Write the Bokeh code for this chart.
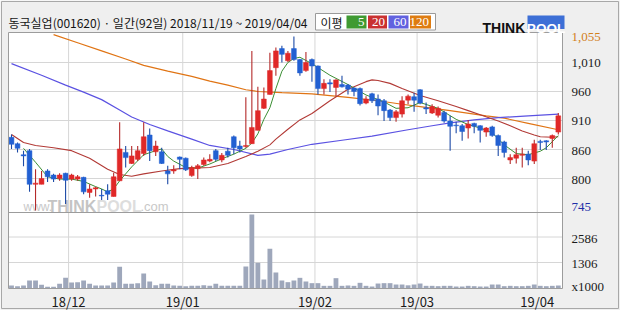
from bokeh.plotting import figure
from bokeh.models import Range1d, ColumnDataSource
from bokeh.embed import file_html
from bokeh.resources import INLINE
from bokeh.core.properties import value

# ------------------------------------------------------------------ data
TITLE = "동국실업(001620) · 일간(92일) 2018/11/19 ~ 2019/04/04"
LEGEND_TITLE = "이평"
LEGEND_LABELS = ["5", "20", "60", "120"]
LEGEND_COLORS = ["#3f9a32", "#c93131", "#6161df", "#de7c12"]

OPEN = [881, 870, 851, 858, 800, 800, 823, 816, 810, 819, 809, 809, 812, 786, 792, 781, 789, 779, 806, 855,
        836, 843, 853, 885, 856, 856, 823, 823, 847, 845, 815, 827, 834, 840, 858, 842, 857, 882, 866, 865,
        870, 893, 931, 955, 1001, 1034, 1013, 1034, 1015, 996, 1015, 1004, 965, 975, 967, 972, 971, 966, 965, 940,
        956, 947, 944, 928, 915, 921, 945, 951, 963, 932, 923, 919, 924, 909, 902, 901, 897, 905, 901, 890,
        899, 884, 873, 842, 845, 850, 852, 840, 874, 875, 879, 890]
HIGH = [886, 872, 858, 861, 826, 823, 826, 818, 819, 820, 818, 816, 813, 800, 796, 792, 800, 820, 907, 866,
        866, 866, 907, 896, 875, 863, 832, 833, 848, 846, 832, 835, 846, 852, 861, 854, 863, 884, 875, 950,
        1030, 968, 967, 1027, 1036, 1039, 1030, 1055, 1016, 1028, 1017, 1005, 981, 981, 981, 987, 973, 967, 967, 952,
        958, 955, 947, 930, 928, 952, 955, 958, 964, 941, 938, 934, 927, 918, 908, 904, 911, 906, 902, 899,
        901, 886, 875, 852, 863, 863, 858, 877, 877, 876, 886, 923]
LOW = [861, 855, 831, 787, 755, 800, 804, 804, 806, 766, 806, 806, 783, 777, 779, 773, 773, 779, 806, 829,
       835, 840, 849, 840, 849, 835, 800, 818, 826, 823, 813, 809, 832, 838, 840, 838, 846, 852, 855, 863,
       870, 893, 930, 955, 987, 1010, 1011, 1013, 987, 994, 977, 955, 955, 959, 952, 967, 955, 952, 936, 938,
       940, 919, 909, 909, 908, 915, 938, 925, 938, 921, 921, 915, 906, 858, 888, 875, 879, 888, 872, 882,
       882, 849, 846, 835, 836, 829, 833, 835, 859, 859, 863, 886]
CLOSE = [869, 862, 849, 800, 802, 810, 813, 809, 816, 807, 816, 813, 787, 792, 794, 780, 783, 813, 861, 846,
         849, 858, 882, 858, 866, 836, 818, 825, 843, 825, 829, 832, 842, 843, 843, 850, 850, 863, 861, 867,
         898, 927, 947, 996, 1030, 1024, 1026, 1015, 992, 1010, 1004, 965, 974, 973, 980, 968, 964, 960, 939, 947,
         944, 935, 927, 915, 925, 944, 952, 945, 940, 930, 934, 931, 909, 900, 901, 891, 904, 900, 893, 897,
         884, 867, 855, 846, 851, 852, 842, 870, 872, 873, 884, 918]
VOLUME = [151, 117, 151, 402, 402, 184, 84, 84, 234, 536, 301, 318, 402, 234, 151, 151, 151, 301, 1088, 234,
          234, 268, 753, 352, 167, 234, 234, 151, 134, 117, 134, 134, 167, 134, 234, 134, 134, 134, 134, 1105,
          3717, 1290, 452, 1992, 804, 402, 318, 402, 536, 352, 268, 268, 134, 134, 519, 134, 151, 134, 285, 134,
          100, 250, 268, 268, 200, 200, 160, 200, 250, 134, 134, 117, 134, 134, 100, 100, 134, 117, 100, 100,
          200, 200, 117, 134, 117, 117, 134, 200, 134, 117, 134, 150]

MA5_X = [2, 4, 6, 8, 10, 12, 14, 15, 16, 17, 18, 20, 22, 24, 25, 26, 27, 29, 31, 33, 35, 37, 39, 40, 41, 42,
         43, 44, 45, 46, 47, 48, 50, 53, 56, 59, 62, 64, 66, 68, 71, 74, 76, 78, 80, 82, 84, 86, 88, 89, 91]
MA5_Y = [862, 838, 813, 809, 809, 805, 796, 792, 787, 792, 806, 830, 851, 858, 861, 848, 840, 829, 828, 835,
         844, 852, 862, 871, 887, 912, 932, 965, 995, 1010, 1017, 1019, 1008, 988, 972, 954, 942, 931, 932, 941,
         931, 912, 903, 897, 889, 868, 853, 851, 857, 863, 884]
MA20_X = [0, 2, 4, 7, 10, 13, 16, 18, 20, 22, 25, 28, 33, 36, 39, 41, 43, 44, 46, 48, 50, 53, 56, 59, 60, 61,
          63, 65, 68, 71, 74, 76, 78, 81, 83, 85, 87, 88, 90, 91]
MA20_Y = [886, 872, 867, 863, 858, 845, 826, 817, 814, 818, 823, 827, 829, 836, 848, 857, 868, 878, 895, 911,
          922, 944, 964, 977, 980, 979, 974, 965, 953, 944, 934, 927, 920, 909, 901, 892, 885, 882, 881, 882]
MA60_X = [0, 5, 9, 12, 15, 18, 20, 23, 26, 30, 33, 37, 41, 43, 46, 50, 55, 60, 66, 70, 73, 77, 81, 86, 91]
MA60_Y = [1008, 988, 971, 959, 946, 928, 916, 903, 892, 878, 867, 860, 850, 852, 860, 869, 876, 883, 894, 901,
          906, 911, 915, 918, 921]
MA120_X = [7, 11, 15, 19, 22, 26, 30, 33, 36, 39, 41, 45, 50, 56, 61, 65, 68, 73, 79, 82, 86, 91]
MA120_Y = [1058, 1044, 1030, 1016, 1005, 995, 986, 978, 971, 963, 960, 958, 956, 950, 944, 938, 934, 927, 918,
           914, 905, 894]

MONTH_START = [10, 29, 51, 68, 88]
MONTH_LABELS = ["18/12", "19/01", "19/02", "19/03", "19/04"]
PRICE_TICKS = [810, 860, 910, 960, 1010]
PRICE_TICK_LABELS = ["800", "860", "910", "960", "1,010"]
PRICE_MAX_TEXT, PRICE_MAX = "1,055", 1055
PRICE_MIN_TEXT, PRICE_MIN = "745", 745
VOL_TICKS = [0, 1306, 2586]
VOL_TICK_LABELS = ["x1000", "1306", "2586"]

# ------------------------------------------------------------------ style / layout
W, H = 620, 310
PANEL_L, PANEL_R = 8, 562
PRICE_T, PRICE_B = 32, 212
VOL_T, VOL_B = 212, 288
LABEL_X = 571
X_START, X_END = -0.5, 91.7
Y_START, Y_END = 751.4, 1061.7
V_END = 3817

UP, DOWN = "#e02828", "#2260d2"
UP_WICK, DOWN_WICK = "#b42a2a", "#1c4aa6"
BG = "#efefef"
GRID = "#d6d6d6"
FRAME = "#9c9c9c"
NUM_FONT = value("Liberation Sans Narrow")
KO_FONT = value("Noto Sans CJK KR")


def full_range(v_a, px_a, v_b, px_b, full):
    """values seen at pixel 0 and pixel `full`, given two value/pixel pairs"""
    k = (v_b - v_a) / (px_b - px_a)
    return v_a - k * px_a, v_a + k * (full - px_a)


ix0, ix1 = full_range(X_START, PANEL_L, X_END, PANEL_R, W)
py_top, py_bot = full_range(Y_END, PRICE_T, Y_START, PRICE_B, H)
vy_top, vy_bot = full_range(V_END, VOL_T, 0, VOL_B, H)

p = figure(width=W, height=H, x_range=Range1d(0, W), y_range=Range1d(H, 0), title=None,
           x_axis_location=None, y_axis_location=None, toolbar_location=None,
           output_backend="svg", min_border=0)
p.extra_x_ranges = {"idx": Range1d(ix0, ix1)}
p.extra_y_ranges = {"price": Range1d(py_bot, py_top), "vol": Range1d(vy_bot, vy_top)}
p.grid.visible = False
p.outline_line_color = None
p.background_fill_color = BG
p.border_fill_color = BG

n = len(CLOSE)
up = [c >= o for o, c in zip(OPEN, CLOSE)]
src = ColumnDataSource(dict(
    x=list(range(n)), h=HIGH, l=LOW, v=VOLUME,
    top=[max(o, c) for o, c in zip(OPEN, CLOSE)],
    bottom=[min(o, c) for o, c in zip(OPEN, CLOSE)],
    color=[UP if u else DOWN for u in up],
    wick=[UP_WICK if u else DOWN_WICK for u in up],
))
month_ticks = [m - 0.5 for m in MONTH_START]

# outer frame and panels
p.quad(left=[1], right=[618], top=[1], bottom=[308], fill_color=None, line_color="#a8a8a8")
p.quad(left=[PANEL_L], right=[PANEL_R], top=[PRICE_T], bottom=[VOL_B], fill_color="white", line_color=None)

# grid
p.segment(x0=[PANEL_L] * len(PRICE_TICKS), x1=[PANEL_R] * len(PRICE_TICKS), y0=PRICE_TICKS, y1=PRICE_TICKS,
          y_range_name="price", line_color=GRID)
p.segment(x0=[PANEL_L] * 2, x1=[PANEL_R] * 2, y0=VOL_TICKS[1:], y1=VOL_TICKS[1:],
          y_range_name="vol", line_color=GRID)
p.segment(x0=month_ticks, x1=month_ticks, y0=[PRICE_T] * 5, y1=[VOL_B] * 5, x_range_name="idx",
          line_color=GRID)

# watermark
for txt, x0, size, col in [("www.", 23, "12px", "#c8c8c8"), ("THINK", 47, "16px", "#c4c4c4"),
                           ("POOL", 96, "16px", "#dddddd"), (".com", 140, "13px", "#c8c8c8")]:
    p.text(x=[x0], y=[206], text=[txt], text_font=value("Liberation Sans"), text_font_size=size,
           text_font_style="bold" if size == "16px" else "normal", text_color=col,
           text_baseline="alphabetic")

# moving averages
p.line(MA120_X, MA120_Y, x_range_name="idx", y_range_name="price", line_color="#e07414", line_width=1.2)
p.line(MA60_X, MA60_Y, x_range_name="idx", y_range_name="price", line_color="#5b52e2", line_width=1.2)
p.line(MA20_X, MA20_Y, x_range_name="idx", y_range_name="price", line_color="#b23a36", line_width=1.1)
p.line(MA5_X, MA5_Y, x_range_name="idx", y_range_name="price", line_color="#3c8e34", line_width=1.0)

# candles
p.segment(x0="x", x1="x", y0="l", y1="h", line_color="wick", line_width=1.1, source=src,
          x_range_name="idx", y_range_name="price")
p.vbar(x="x", width=0.8, top="top", bottom="bottom", fill_color="color", line_color="color",
       line_width=0.5, source=src, x_range_name="idx", y_range_name="price")

# volume
p.vbar(x="x", width=0.8, top="v", bottom=0, fill_color="#9ea7bb", line_color=None, source=src,
       x_range_name="idx", y_range_name="vol")

# panel borders
p.quad(left=[PANEL_L], right=[PANEL_R], top=[PRICE_T], bottom=[VOL_B], fill_color=None, line_color=FRAME)
p.segment(x0=[PANEL_L], x1=[PANEL_R], y0=[VOL_T], y1=[VOL_T], line_color=FRAME)

# right-hand scale labels
p.text(x=[LABEL_X] * len(PRICE_TICKS), y=PRICE_TICKS, text=PRICE_TICK_LABELS, y_range_name="price",
       text_font=NUM_FONT, text_font_size="13px", text_baseline="middle", text_color="#1a1a1a", y_offset=1)
p.text(x=[LABEL_X], y=[PRICE_MAX], text=[PRICE_MAX_TEXT], y_range_name="price", text_font=NUM_FONT,
       text_font_size="13px", text_baseline="middle", text_color="#d2801c", y_offset=1)
p.text(x=[LABEL_X], y=[max(PRICE_MIN, Y_START + 10)], text=[PRICE_MIN_TEXT], y_range_name="price",
       text_font=NUM_FONT, text_font_size="13px", text_baseline="middle", text_color="#1e2ea8")
p.text(x=[LABEL_X] * 3, y=VOL_TICKS, text=VOL_TICK_LABELS, y_range_name="vol", text_font=NUM_FONT,
       text_font_size="13px", text_baseline="middle", text_color="#1a1a1a", y_offset=[-2.5, 1.5, 1.5])
p.text(x=month_ticks, y=[301] * 5, text=MONTH_LABELS, x_range_name="idx", text_font=KO_FONT,
       text_font_size="13px", text_baseline="middle", text_align="center", text_color="#1a1a1a")

# header: title, legend, logo
p.text(x=[8], y=[22], text=[TITLE], text_font=KO_FONT, text_font_size="12px",
       text_baseline="middle", text_color="#151515")
p.quad(left=[315], right=[435], top=[13], bottom=[29.5], fill_color="white", line_color="#9a9a9a")
p.text(x=[320], y=[21.5], text=[LEGEND_TITLE], text_font=KO_FONT, text_font_size="12px",
       text_baseline="middle", text_color="#151515")
lw = [20, 19, 20, 21]
lx = [346]
for w_ in lw[:-1]:
    lx.append(lx[-1] + w_ + 1.5)
lr = [a + b for a, b in zip(lx, lw)]
p.quad(left=lx, right=lr, top=[15] * 4, bottom=[28] * 4, fill_color=LEGEND_COLORS, line_color=None)
p.text(x=[r - 2 for r in lr], y=[21.7] * 4, text=LEGEND_LABELS, text_font=NUM_FONT,
       text_font_size="13px", text_baseline="middle", text_align="right", text_color="white")
p.text(x=[482], y=[27.5], text=["THINK"], text_font=value("Liberation Sans"), text_font_style="bold",
       text_font_size="14px", text_baseline="alphabetic", text_color="#111111")
p.quad(left=[527], right=[564], top=[15], bottom=[28.5], fill_color="#3d6fd6", line_color=None)
p.text(x=[545.5], y=[27.5], text=["POOL"], text_font=value("Liberation Sans"), text_font_style="bold",
       text_font_size="13.5px", text_baseline="alphabetic", text_align="center", text_color="white")

open("out.html", "w").write(file_html(p, INLINE))
